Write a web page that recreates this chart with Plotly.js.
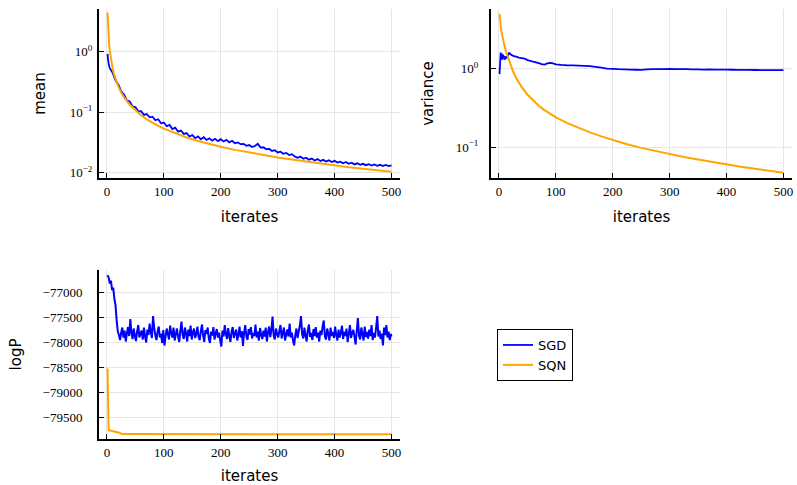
<!DOCTYPE html>
<html>
<head>
<meta charset="utf-8">
<script src="https://cdn.plot.ly/plotly-3.0.1.min.js"></script>
<style>html,body{margin:0;padding:0;background:#fff;}#chart{width:797px;height:485px;}</style>
</head>
<body>
<div id="chart"></div>
<script>
// ---------- data ----------
const seriesNames = ["SGD", "SQN"];
const xTickVals = [0, 100, 200, 300, 400, 500];

// mean: SGD (blue), iterations 1..4 then every 5th
const meanSgdIter = [1, 2, 3, 4].concat(Array.from({length: 100}, (_, i) => 5 + 5 * i));
const meanSgd = [0.93, 0.74, 0.64, 0.58,
  0.54, 0.45, 0.34, 0.29, 0.222, 0.198, 0.158, 0.151, 0.124, 0.122,
  0.104, 0.105, 0.091, 0.094, 0.083, 0.085, 0.074, 0.077, 0.066, 0.068,
  0.059, 0.062, 0.053, 0.056, 0.048, 0.050, 0.044, 0.0455, 0.040, 0.042,
  0.0375, 0.040, 0.036, 0.0388, 0.035, 0.0372, 0.034, 0.0365, 0.0335, 0.036,
  0.033, 0.0352, 0.032, 0.034, 0.031, 0.0318, 0.0298, 0.0302, 0.028, 0.0288,
  0.0268, 0.0278, 0.0302, 0.0262, 0.0265, 0.0245, 0.025, 0.023, 0.0237, 0.0218,
  0.0224, 0.0207, 0.0214, 0.0197, 0.0204, 0.0187, 0.0178, 0.0186, 0.0171, 0.0178,
  0.0165, 0.0172, 0.016, 0.0169, 0.0157, 0.0164, 0.0154, 0.0161, 0.0151, 0.0158,
  0.0148, 0.0153, 0.0144, 0.0151, 0.0141, 0.0147, 0.0138, 0.0144, 0.0136, 0.0141,
  0.0134, 0.0139, 0.0132, 0.0138, 0.0131, 0.0136, 0.013, 0.0135, 0.0129, 0.0133];

// mean: SQN (orange)
const meanSqnIter = [1, 2, 3, 4, 5, 6, 8, 10, 12, 15, 20, 25, 30, 40, 50, 60, 70, 80, 90, 100,
  120, 140, 160, 180, 200, 225, 250, 275, 300, 325, 350, 375, 400, 425, 450, 475, 500];
const meanSqn = [4.5, 2.45, 1.69, 1.29, 1.04, 0.87, 0.66, 0.53, 0.44, 0.355, 0.267, 0.214, 0.179, 0.134, 0.108, 0.0897, 0.0769, 0.0673, 0.0598, 0.0539,
  0.0450, 0.0385, 0.0337, 0.0300, 0.0270, 0.0240, 0.0216, 0.0196, 0.0180, 0.0166, 0.0154, 0.0143, 0.0132, 0.0124, 0.0117, 0.0110, 0.0104];

// variance: SGD (blue)
const varSgdIter = [1, 2, 3, 4, 5, 6, 7, 8, 9, 10, 12, 14, 16, 18, 20, 25, 30, 35, 40, 45, 50, 55, 60, 65, 70, 75, 80, 85, 90, 95, 100,
  110, 120, 130, 140, 150, 160, 170, 180, 190, 200, 210, 220, 230, 240, 250, 260, 270, 280, 290, 300,
  310, 320, 330, 340, 350, 360, 370, 380, 390, 400, 410, 420, 430, 440, 450, 460, 470, 480, 490, 500];
const varSgd = [0.85, 1.15, 1.6, 1.3, 1.55, 1.3, 1.5, 1.35, 1.45, 1.3, 1.42, 1.35, 1.48, 1.6, 1.52, 1.45, 1.42, 1.38, 1.36, 1.34, 1.28, 1.25, 1.22, 1.2, 1.17, 1.14, 1.12, 1.16, 1.18, 1.16, 1.13,
  1.11, 1.10, 1.095, 1.09, 1.08, 1.07, 1.05, 1.03, 1.0, 0.99, 0.98, 0.975, 0.97, 0.965, 0.96, 0.975, 0.985, 0.985, 0.985, 0.99,
  0.985, 0.98, 0.98, 0.975, 0.975, 0.97, 0.972, 0.97, 0.968, 0.97, 0.965, 0.962, 0.96, 0.96, 0.958, 0.955, 0.955, 0.955, 0.953, 0.955];

// variance: SQN (orange)
const varSqnIter = [1, 2, 3, 4, 5, 6, 8, 10, 12, 14, 16, 20, 25, 30, 40, 50, 60, 70, 80, 90, 100,
  120, 140, 160, 180, 200, 225, 250, 275, 300, 325, 350, 375, 400, 425, 450, 475, 500];
const varSqn = [4.95, 4.0, 3.5, 3.1, 2.8, 2.55, 2.2, 1.9, 1.68, 1.52, 1.38, 1.13, 0.91, 0.765, 0.58, 0.468, 0.392, 0.337, 0.296, 0.264, 0.24,
  0.202, 0.175, 0.154, 0.137, 0.123, 0.109, 0.098, 0.089, 0.0815, 0.075, 0.0695, 0.0645, 0.0600, 0.0563, 0.0530, 0.0500, 0.0472];

// logP: SGD (blue), odd iterations 1..499 then 500
const logpSgdIter = Array.from({length: 250}, (_, i) => 1 + 2 * i).concat([500]);
const logpSgd = [
  -76650, -76700, -76820, -76760, -76950, -76900, -77120, -77250, -77550, -77780,
  -77850, -77950, -77800, -77700, -77900, -77760, -77980, -77820, -77690, -77870,
  -77530, -77800, -77930, -77720, -77860, -77970, -77780, -77650, -77900, -77820,
  -77760, -77940, -77700, -77880, -78000, -77740, -77850, -77620, -77790, -77910,
  -77470, -77700, -77860, -77950, -77780, -77680, -77900, -77820, -78010, -77750,
  -78060, -77880, -77720, -77830, -77940, -77660, -77810, -77900, -77700, -77960,
  -77840, -77720, -77880, -77990, -77760, -77580, -77850, -77930, -77700, -77820,
  -77980, -77740, -77870, -77660, -77940, -77800, -77720, -77910, -77830, -77680,
  -77890, -77950, -77770, -77640, -77860, -77990, -77750, -77830, -77700, -77920,
  -78010, -77780, -77860, -77690, -77940, -77820, -77730, -77900, -77800, -77960,
  -78080, -77760, -77880, -77650, -77830, -77930, -77710, -77870, -77990, -77780,
  -77690, -77910, -77820, -77740, -77960, -77850, -77680, -77900, -77770, -78070,
  -77800, -77650, -77880, -77950, -77730, -77840, -77690, -77920, -77810, -77870,
  -77640, -77900, -77780, -77960, -77710, -77850, -77930, -77760, -77880, -77700,
  -77980, -77800, -77680, -77890, -77750, -77480, -77860, -77940, -77720, -77830,
  -77900, -77770, -77650, -77920, -77810, -77700, -77960, -77840, -77740, -77880,
  -77620, -77900, -77800, -77960, -78060, -77850, -77720, -77910, -77780, -77660,
  -77470, -77830, -77920, -77700, -77860, -77980, -77750, -77640, -77890, -77810,
  -77950, -77730, -77870, -77690, -77900, -77800, -77980, -77760, -77850, -77680,
  -77560, -77880, -77940, -77720, -77830, -77960, -77700, -77870, -77790, -77910,
  -77680, -77850, -77960, -77740, -77900, -77810, -77660, -77930, -77780, -77870,
  -77720, -77990, -77830, -77650, -77910, -77800, -77750, -77880, -78040, -77770,
  -77510, -77860, -77940, -77700, -77830, -77960, -77680, -77890, -77790, -77920,
  -77740, -77870, -77650, -77950, -77810, -77900, -77700, -77470, -77880, -77760,
  -77930, -77820, -78060, -77700, -77850, -77650, -77900, -77780, -77950, -77830,
  -77880];

// logP: SQN (orange)
const logpSqnIter = [1, 2, 3, 5, 8, 10, 14, 18, 20, 22, 25, 30, 50, 100, 200, 300, 400, 500];
const logpSqn = [-78520, -79740, -79755, -79762, -79770, -79778, -79782, -79786, -79790, -79805, -79826, -79832, -79834, -79835, -79836, -79836, -79836, -79836];

const meanTickVals = [0.01, 0.1, 1];
const meanTickText = ["10<sup>−2</sup>", "10<sup>−1</sup>", "10<sup>0</sup>"];
const varTickVals = [0.1, 1];
const varTickText = ["10<sup>−1</sup>", "10<sup>0</sup>"];
const logpTickVals = [-79500, -79000, -78500, -78000, -77500, -77000];
const logpTickText = ["−79500", "−79000", "−78500", "−78000", "−77500", "−77000"];

// ---------- styling ----------
const BLUE = "#0000FF", ORANGE = "#FFA500";
const W = 797, H = 485;
const px = v => v / W, py = v => 1 - v / H;
const tickFont = {family: "Liberation Serif", size: 13, color: "#000"};
const titleFont = {family: "DejaVu Sans", size: 15, color: "#000"};

function axisBase(extra) {
  return Object.assign({
    showline: true, linecolor: "#000", linewidth: 2, mirror: false,
    ticks: "inside", ticklen: 5, tickwidth: 1, tickcolor: "#000",
    showgrid: true, gridcolor: "#e6e6e6", gridwidth: 1, zeroline: false,
    tickfont: tickFont, automargin: false, fixedrange: true
  }, extra);
}
function xAxis(domain, anchor) {
  return axisBase({domain: domain, anchor: anchor, range: [-14, 515], tickvals: xTickVals,
    ticklabelstandoff: 0,
    title: {text: "iterates", font: titleFont, standoff: 14}});
}

const traces = [
  {x: meanSgdIter, y: meanSgd, xaxis: "x", yaxis: "y", name: seriesNames[0], legendgroup: "a", mode: "lines", line: {color: BLUE, width: 1.8, simplify: false}},
  {x: meanSqnIter, y: meanSqn, xaxis: "x", yaxis: "y", name: seriesNames[1], legendgroup: "b", mode: "lines", line: {color: ORANGE, width: 2}},
  {x: varSgdIter, y: varSgd, xaxis: "x2", yaxis: "y2", name: seriesNames[0], legendgroup: "a", showlegend: false, mode: "lines", line: {color: BLUE, width: 1.8, simplify: false}},
  {x: varSqnIter, y: varSqn, xaxis: "x2", yaxis: "y2", name: seriesNames[1], legendgroup: "b", showlegend: false, mode: "lines", line: {color: ORANGE, width: 2}},
  {x: logpSgdIter, y: logpSgd, xaxis: "x3", yaxis: "y3", name: seriesNames[0], legendgroup: "a", showlegend: false, mode: "lines", line: {color: BLUE, width: 2, simplify: false}},
  {x: logpSqnIter, y: logpSqn, xaxis: "x3", yaxis: "y3", name: seriesNames[1], legendgroup: "b", showlegend: false, mode: "lines", line: {color: ORANGE, width: 2}}
];

const layout = {
  width: W, height: H,
  margin: {l: 0, r: 0, t: 0, b: 0, pad: 0},
  paper_bgcolor: "#fff", plot_bgcolor: "#fff",
  showlegend: true,
  legend: {x: px(497), y: py(329), xanchor: "left", yanchor: "top",
    bordercolor: "#000", borderwidth: 1, bgcolor: "#fff",
    font: {family: "DejaVu Sans", size: 13, color: "#000"},
    traceorder: "normal"},
  xaxis: xAxis([px(99), px(400)], "y"),
  yaxis: axisBase({domain: [py(178), py(9)], anchor: "x", type: "log", range: [-2.085, 0.71],
    tickvals: meanTickVals, ticktext: meanTickText, ticklabelstandoff: 2,
    title: {text: "mean", font: titleFont, standoff: 20}}),
  xaxis2: xAxis([px(491), px(792)], "y2"),
  yaxis2: axisBase({domain: [py(178), py(9)], anchor: "x2", type: "log", range: [-1.392, 0.757],
    tickvals: varTickVals, ticktext: varTickText, ticklabelstandoff: 8,
    title: {text: "variance", font: titleFont, standoff: 18}}),
  xaxis3: xAxis([px(99), px(400)], "y3"),
  yaxis3: axisBase({domain: [py(439), py(270)], anchor: "x3", range: [-79932, -76548],
    tickvals: logpTickVals, ticktext: logpTickText, ticklabelstandoff: 12,
    title: {text: "logP", font: titleFont, standoff: 17}})
};

Plotly.newPlot("chart", traces, layout, {displayModeBar: false, staticPlot: true});
</script>
</body>
</html>
